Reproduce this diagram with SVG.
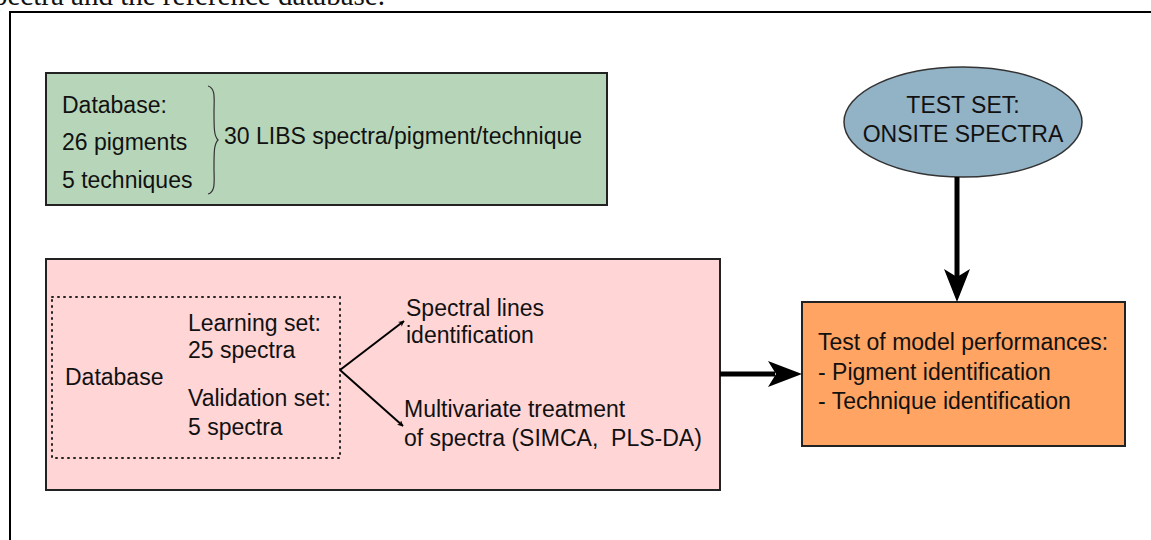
<svg xmlns="http://www.w3.org/2000/svg" width="1151" height="540" viewBox="0 0 1151 540">
<defs>
<style>
.t{font-family:"Liberation Sans",Arial,sans-serif;font-size:23px;fill:#111;white-space:pre}
.box{stroke:#222;stroke-width:2}
</style>
<marker id="sm" viewBox="0 0 10 10" refX="9" refY="5" markerWidth="6" markerHeight="6" markerUnits="userSpaceOnUse" orient="auto"><path d="M0,0 L10,5 L0,10 L3,5 Z" fill="#000"/></marker>
</defs>
<rect width="1151" height="540" fill="#fff"/>
<text x="385" y="5" text-anchor="end" style="font-family:'Liberation Serif',serif;font-size:29px;fill:#111">spectra and the reference database.</text>
<rect x="10" y="12" width="1160" height="560" fill="none" stroke="#000" stroke-width="2"/>

<g id="database-box">
<rect x="46" y="73" width="561" height="132" fill="#b7d6b9" class="box"/>
<text class="t" x="62" y="113">Database:</text>
<text class="t" x="62" y="150">26 pigments</text>
<text class="t" x="62" y="188">5 techniques</text>
<path d="M208,86 C216,88 214,100 214,112 C214,128 214,136 218,140 C214,144 214,152 214,168 C214,180 216,192 208,194" fill="none" stroke="#333" stroke-width="1.2"/>
<text class="t" x="224" y="144">30 LIBS spectra/pigment/technique</text>
</g>

<g id="learning-box">
<rect x="46" y="259" width="674" height="231" fill="#ffd5d6" class="box"/>
<rect x="52" y="297" width="288" height="161" fill="none" stroke="#222" stroke-width="2" stroke-dasharray="1,5" stroke-linecap="round"/>
<text class="t" x="65" y="385">Database</text>
<text class="t" x="188" y="331">Learning set:</text>
<text class="t" x="188" y="358">25 spectra</text>
<text class="t" x="188" y="406">Validation set:</text>
<text class="t" x="188" y="435">5 spectra</text>
<text class="t" x="406" y="316">Spectral lines</text>
<text class="t" x="406" y="343">identification</text>
<text class="t" x="404" y="417">Multivariate treatment</text>
<text class="t" x="404" y="446">of spectra (SIMCA,  PLS-DA)</text>
</g>

<g id="test-set">
<ellipse cx="963" cy="122" rx="119" ry="55" fill="#92b2c6" stroke="#333" stroke-width="1.5"/>
<text class="t" x="963" y="113" text-anchor="middle">TEST SET:</text>
<text class="t" x="963" y="142" text-anchor="middle">ONSITE SPECTRA</text>
</g>

<g id="performance">
<rect x="802" y="302" width="323" height="144" fill="#ffa462" class="box"/>
<text class="t" x="818" y="350">Test of model performances:</text>
<text class="t" x="818" y="380">- Pigment identification</text>
<text class="t" x="818" y="409">- Technique identification</text>
</g>

<g id="connectors">
<line x1="340" y1="370" x2="404" y2="321" stroke="#000" stroke-width="2" marker-end="url(#sm)"/>
<line x1="340" y1="370" x2="403" y2="426" stroke="#000" stroke-width="2" marker-end="url(#sm)"/>
<line x1="720" y1="374" x2="775" y2="374" stroke="#000" stroke-width="5"/>
<path d="M802,374 L768,361 L776,374 L768,387 Z" fill="#000"/>
<line x1="957" y1="177" x2="957" y2="280" stroke="#000" stroke-width="5"/>
<path d="M957,302 L944,269 L957,277 L970,269 Z" fill="#000"/>
</g>
</svg>
